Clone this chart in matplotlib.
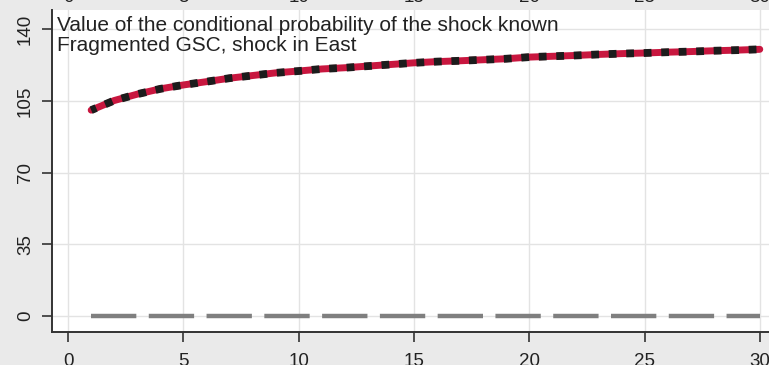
import matplotlib
matplotlib.use("Agg")
import matplotlib.pyplot as plt
import numpy as np

# values
horizon = list(range(1, 31))
cond_value = [100.5, 105.2, 108.3, 110.9, 112.8, 114.4, 116.1, 117.4, 118.7, 119.6,
              120.6, 121.2, 122.0, 122.8, 123.6, 124.2, 124.6, 125.1, 125.6, 126.4,
              126.8, 127.2, 127.7, 128.1, 128.4, 128.8, 129.1, 129.5, 129.8, 130.2]
baseline = [0] * len(horizon)
xticks = [0, 5, 10, 15, 20, 25, 30]
yticks = [0, 35, 70, 105, 140]
title_lines = ["Value of the conditional probability of the shock known",
               "Fragmented GSC, shock in East"]

plt.rcParams['font.family'] = ['Liberation Sans', 'DejaVu Sans']

fig = plt.figure(figsize=(7.69, 3.65), dpi=100, facecolor='#eaeaea')
ax = fig.add_axes([0.0676, 0.0912, 0.9324, 0.8814])
ax.set_facecolor('white')

# grid
ax.set_xticks(xticks)
ax.set_yticks(yticks)
ax.grid(True, color='#e3e3e3', linewidth=1.0)
ax.set_axisbelow(True)

# zero line
ax.plot(horizon, baseline, color='#7f7f7f', linewidth=3.2,
        linestyle=(0, (10.2, 2.8)), solid_capstyle='butt', dash_capstyle='butt')

# red line with black dotted overlay
ax.plot(horizon, cond_value, color='#c8173f', linewidth=5, solid_capstyle='round')
ax.plot(horizon, cond_value, color='#1c1c1c', linewidth=5.6,
        linestyle=(0.3, (1.0, 1.25)), dash_capstyle='butt')

ax.set_xlim(-0.7, 30.4)
ax.set_ylim(-7.7, 149.4)

for s in ['top', 'right']:
    ax.spines[s].set_visible(False)
for s in ['left', 'bottom']:
    ax.spines[s].set_color('#333333')
    ax.spines[s].set_linewidth(1.4)

ax.tick_params(axis='both', length=7, width=1.2, color='#333333',
               labelsize=13.5, labelcolor='#222222')
ax.tick_params(axis='y', pad=6)
ax.tick_params(axis='x', pad=8)
for lab in ax.get_yticklabels():
    lab.set_rotation(90)
    lab.set_va('center')

ax.text(0.007, 0.98, "\n".join(title_lines), transform=ax.transAxes,
        ha='left', va='top', fontsize=15, color='#222222', linespacing=1.05)

# tick labels of the panel above, cut by the top edge
ax_top = fig.add_axes([0.0676, 1.0 + 11 / 365, 0.9324, 0.2])
ax_top.set_xlim(-0.7, 30.4)
ax_top.set_xticks(xticks)
ax_top.set_yticks([])
ax_top.tick_params(axis='x', length=0, pad=0, labelsize=13.5, labelcolor='#222222')
for s in ax_top.spines.values():
    s.set_visible(False)
ax_top.patch.set_alpha(0)

fig.savefig("out.png", dpi=100, facecolor=fig.get_facecolor())
